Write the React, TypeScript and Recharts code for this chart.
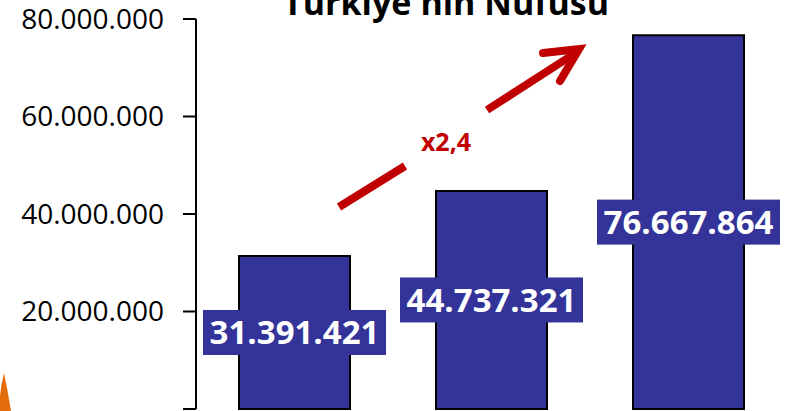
import { BarChart, Bar, XAxis, YAxis, LabelList, Customized } from 'recharts';

const years = ['1965', '1980', '2013'];
const population = [31391421, 44737321, 76667864];
const yTicks = [0, 20000000, 40000000, 60000000, 80000000];
const title = "Türkiye'nin Nüfusu";
const growthLabel = 'x2,4';

const data = years.map((year, i) => ({ year, value: population[i] }));

const BAR_COLOR = '#333399';
const RED = '#C00000';
const FONT = '"Open Sans", sans-serif';

// Turkish thousands separator
const fmt = (v: number) => v.toLocaleString('en-US').replace(/,/g, '.');

const YTick = (props: any) => {
  const { x, y, payload } = props;
  if (payload.value === 0) return null;
  return (
    <text x={x} y={y} dy={9.5} textAnchor="end" fill="#000" fontSize={28} fontFamily={FONT}>
      {fmt(payload.value)}
    </text>
  );
};

const ValueLabel = (props: any) => {
  const { x, y, width, height, value } = props;
  const cx = x + width / 2;
  const cy = y + height / 2;
  const boxW = 183;
  const boxH = 45;
  return (
    <g>
      <rect x={cx - boxW / 2} y={cy - boxH / 2} width={boxW} height={boxH} fill={BAR_COLOR} />
      <text x={cx} y={cy} dy={12} textAnchor="middle" fill="#fff" fontSize={33} fontWeight={700} fontFamily={FONT}>
        {fmt(value)}
      </text>
    </g>
  );
};

// title, growth arrow and the orange slide decoration
const Decorations = () => (
  <g>
    <text x={446} y={15} textAnchor="middle" fontSize={34} fontWeight={700} fontFamily={FONT} fill="#000">
      {title}
    </text>
    <line x1={339} y1={207} x2={405} y2={166} stroke={RED} strokeWidth={8} />
    <line x1={487} y1={110} x2={574} y2={54} stroke={RED} strokeWidth={8} />
    <polyline points="543,53 579,49 560,81" fill="none" stroke={RED} strokeWidth={8} strokeLinecap="round" strokeLinejoin="miter" />
    <text x={446} y={151} textAnchor="middle" fontSize={25} fontWeight={700} fontFamily={FONT} fill={RED}>
      {growthLabel}
    </text>
    <path d="M 0 396 Q 1 384 4 373 Q 8 392 11 411 L 0 411 Z" fill="#E46C0A" />
  </g>
);

export default function App() {
  return (
    <div style={{ position: 'fixed', top: 0, left: 0, width: 790, height: 411, background: '#fff', overflow: 'hidden' }}>
      <BarChart
        width={790}
        height={411}
        data={data}
        margin={{ top: 19, right: 3, left: 0, bottom: 2 }}
        barCategoryGap={43}
      >
        <XAxis
          dataKey="year"
          tick={false}
          tickLine={false}
          height={0}
          axisLine={{ stroke: '#000', strokeWidth: 2 }}
        />
        <YAxis
          width={196}
          domain={[0, 80000000]}
          ticks={yTicks}
          interval={0}
          tick={<YTick />}
          tickSize={13}
          tickMargin={19}
          axisLine={{ stroke: '#000', strokeWidth: 2 }}
          tickLine={{ stroke: '#000', strokeWidth: 2 }}
        />
        <Bar dataKey="value" fill={BAR_COLOR} stroke="#000" strokeWidth={2} isAnimationActive={false}>
          <LabelList dataKey="value" content={<ValueLabel />} />
        </Bar>
        <Customized component={Decorations} />
      </BarChart>
    </div>
  );
}
